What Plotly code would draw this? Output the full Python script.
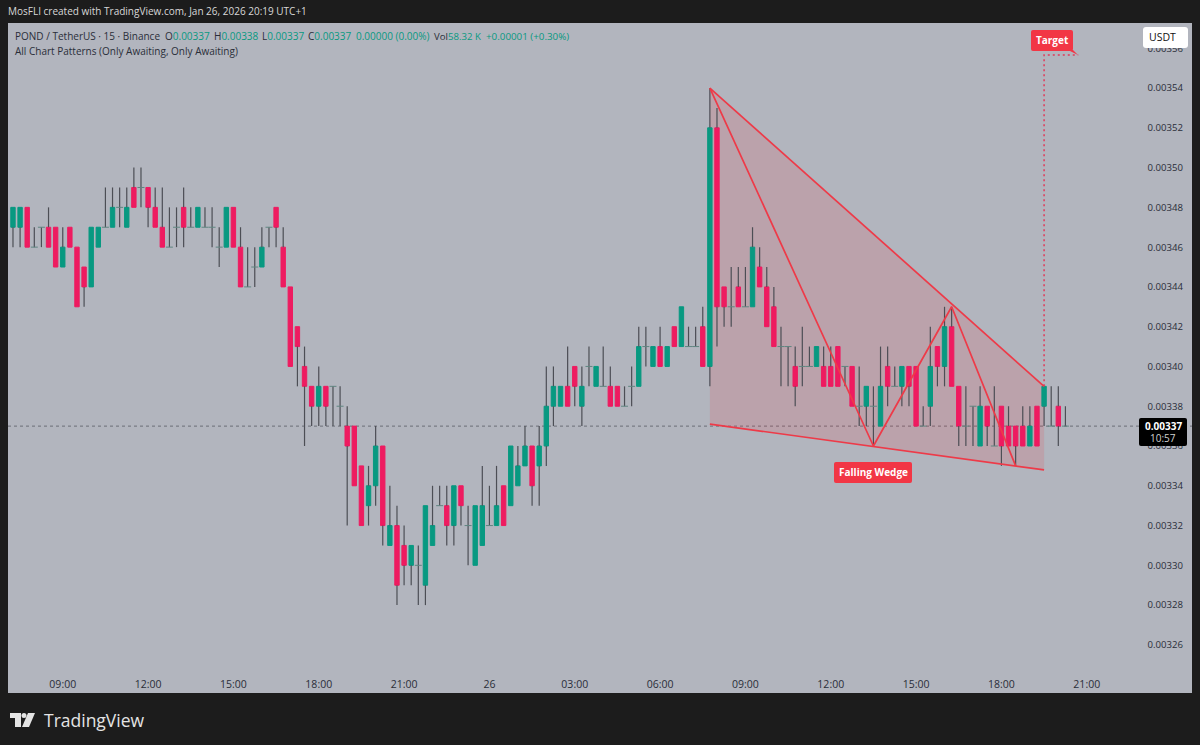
import pandas as pd
import plotly.graph_objects as go

OPEN = [347,347,348,346,347,347,347,345,347,346,345,344,346,347,347,348,347,349,349,349,
        348,347,346,347,348,347,347,347,347,346,346,348,346,344,345,345,347,348,346,344,
        342,340,339,338,339,339,338,337,337,335,333,334,336,331,332,331,330,330,329,331,
        333,333,332,334,332,330,331,332,332,334,333,334,335,336,335,336,338,338,339,340,
        338,340,339,339,339,339,338,339,339,341,340,341,340,342,341,341,341,342,340,352,
        344,343,344,343,343,345,344,343,341,341,340,340,340,340,340,340,341,340,340,338,
        338,338,337,340,339,339,340,340,337,338,341,340,342,339,337,338,336,338,336,338,
        337,337,337,336,338,338,337,338,337]
HIGH = [348,348,348,347,347,348,347,347,347,346,345,347,347,349,349,349,349,350,350,349,
        349,349,348,348,349,348,348,348,348,347,348,348,347,346,346,347,347,348,347,344,
        342,341,339,340,339,339,339,338,337,335,335,337,336,334,333,332,331,331,333,334,
        334,334,334,334,333,333,335,334,335,334,336,336,337,336,337,340,340,339,341,340,
        340,341,340,341,340,339,339,340,342,342,341,342,341,342,343,342,342,343,354,353,
        344,345,345,345,347,346,345,344,342,341,341,342,341,341,341,341,341,340,340,340,
        339,339,341,341,340,340,340,340,338,342,341,343,343,339,339,338,339,338,339,338,
        338,337,338,338,338,339,339,339,338]
LOW = [346,346,346,346,346,346,345,345,346,343,343,344,346,347,347,347,347,348,348,347,
       347,346,346,346,346,347,347,347,346,345,346,346,344,344,344,345,346,346,344,340,
       339,336,337,337,337,337,337,332,334,332,332,333,331,331,328,329,329,328,328,331,
       333,331,331,332,330,330,331,332,332,332,333,334,335,333,333,335,337,338,338,338,
       337,339,339,339,338,338,338,338,339,340,340,340,340,341,341,341,341,340,339,341,
       342,342,343,343,343,344,342,341,339,339,338,339,340,340,339,339,339,339,338,337,
       337,336,337,338,339,338,338,337,337,337,339,339,339,336,336,336,336,336,336,335,
       336,335,336,336,336,337,337,336,337]
CLOSE = [348,348,346,346,347,346,345,346,346,343,344,347,347,347,348,348,348,348,349,348,
         347,346,346,347,347,347,348,347,347,346,348,346,344,344,345,346,347,347,344,340,
         341,339,338,339,338,339,338,336,334,332,334,336,332,332,329,330,331,330,333,332,
         333,332,334,333,332,333,333,332,333,332,336,335,336,334,336,338,339,339,338,339,
         339,340,340,339,338,338,338,339,341,341,341,340,341,341,343,341,341,340,352,343,
         343,343,343,343,346,344,342,341,341,341,339,340,340,341,339,339,339,340,338,338,
         339,338,339,339,339,340,339,337,337,340,340,342,339,337,337,338,338,337,336,336,
         336,336,336,337,336,339,337,337,337]

WEDGE_FILL_IDX = [98, 145, 145, 98]
WEDGE_FILL_PRICE = [354, 339, 334.8, 337.1]
ZIGZAG_IDX = [98, 121, 132, 141]
ZIGZAG_PRICE = [354, 336, 343, 335]
UPPER_IDX = [98, 145]
UPPER_PRICE = [354, 339]
LOWER_IDX = [98, 145]
LOWER_PRICE = [337.1, 334.8]

TICK_PRICES = [326, 328, 330, 332, 334, 336, 338, 340, 342, 344, 346, 348, 350, 352, 354, 356]
TIME_TICKS = ["2026-01-25 09:00", "2026-01-25 12:00", "2026-01-25 15:00", "2026-01-25 18:00",
              "2026-01-25 21:00", "2026-01-26 00:00", "2026-01-26 03:00", "2026-01-26 06:00",
              "2026-01-26 09:00", "2026-01-26 12:00", "2026-01-26 15:00", "2026-01-26 18:00",
              "2026-01-26 21:00"]
TIME_LABELS = ["09:00", "12:00", "15:00", "18:00", "21:00", "26", "03:00", "06:00",
               "09:00", "12:00", "15:00", "18:00", "21:00"]

FRAME = "#1c1c1c"
PANE = "#b2b5be"
GREEN = "#089981"
RED = "#f23645"
PINK = "#ee1b60"
WICK = "#4c4e55"
INK = "#2a2e39"
FONT = "Open Sans"

times = pd.date_range("2026-01-25 07:15", periods=len(OPEN), freq="15min")


def idx_time(i):
    return times[0] + pd.Timedelta(minutes=15 * i)


def to_price(values):
    return [v / 100000 for v in values]


# pixel helpers for the pieces that sit on the frame, not on the price scale
def px(x):
    return (x - 8) / 1184


def py(y):
    return (693 - y) / 670


def round_rect(x0, y0, x1, y1, r):
    return (f"M{px(x0 + r)},{py(y0)} L{px(x1 - r)},{py(y0)} Q{px(x1)},{py(y0)} {px(x1)},{py(y0 + r)} "
            f"L{px(x1)},{py(y1 - r)} Q{px(x1)},{py(y1)} {px(x1 - r)},{py(y1)} "
            f"L{px(x0 + r)},{py(y1)} Q{px(x0)},{py(y1)} {px(x0)},{py(y1 - r)} "
            f"L{px(x0)},{py(y0 + r)} Q{px(x0)},{py(y0)} {px(x0 + r)},{py(y0)} Z")


def poly(points):
    return "M" + " L".join(f"{px(x)},{py(y)}" for x, y in points) + " Z"


def label(x, y, text, size=10, color=INK, anchor="left"):
    # annotations pad themselves by 2px, take that back on the left side
    x = x - 2 if anchor == "left" else x
    fig.add_annotation(xref="paper", yref="paper", x=px(x), y=py(y), text=text, showarrow=False,
                       xanchor=anchor, yanchor="middle", align=anchor,
                       font=dict(family=FONT, size=size, color=color))


# scatter is always drawn over candlesticks, so wicks stop at the body edges
wick_x, wick_y = [], []
for t, o, h, l, c in zip(times, OPEN, HIGH, LOW, CLOSE):
    wick_x += [t, t, None, t, t, None]
    wick_y += [h / 100000, max(o, c) / 100000, None, min(o, c) / 100000, l / 100000, None]

bodies = [i for i in range(len(OPEN)) if OPEN[i] != CLOSE[i]]
dojis = [i for i in range(len(OPEN)) if OPEN[i] == CLOSE[i]]

# wedge path goes in as a below-traces shape, a scatter fill would tint the candles
wedge_path = "M" + " L".join(
    f"{idx_time(i).strftime('%Y-%m-%d_%H:%M')},{p / 100000}"
    for i, p in zip(WEDGE_FILL_IDX, WEDGE_FILL_PRICE)
) + " Z"

fig = go.Figure()

fig.add_trace(go.Scatter(x=wick_x, y=wick_y, mode="lines", line=dict(color=WICK, width=1.2),
                         hoverinfo="skip"))

fig.add_trace(go.Candlestick(
    x=[times[i] for i in bodies],
    open=[OPEN[i] / 100000 for i in bodies],
    close=[CLOSE[i] / 100000 for i in bodies],
    high=[max(OPEN[i], CLOSE[i]) / 100000 for i in bodies],
    low=[min(OPEN[i], CLOSE[i]) / 100000 for i in bodies],
    increasing=dict(line=dict(color=GREEN, width=1), fillcolor=GREEN),
    decreasing=dict(line=dict(color=PINK, width=1), fillcolor=PINK),
))

# flat candles are only a faint dash
fig.add_trace(go.Scatter(
    x=[times[i] for i in dojis],
    y=[OPEN[i] / 100000 for i in dojis],
    mode="markers",
    marker=dict(symbol="line-ew", size=5, line=dict(color="#5f8580", width=1)),
    hoverinfo="skip",
))

for xs, ys in [(UPPER_IDX, UPPER_PRICE), (LOWER_IDX, LOWER_PRICE), (ZIGZAG_IDX, ZIGZAG_PRICE)]:
    fig.add_trace(go.Scatter(x=[idx_time(i) for i in xs], y=to_price(ys), mode="lines",
                             line=dict(color="#ee3a48", width=1.7), hoverinfo="skip"))

# target leg
fig.add_trace(go.Scatter(x=[idx_time(145), idx_time(145), idx_time(149.8)],
                         y=to_price([339, 355.66, 355.66]), mode="lines",
                         line=dict(color="#e03a58", width=1.5, dash="2px,3px"), hoverinfo="skip"))

fig.update_layout(
    width=1200,
    height=745,
    autosize=False,
    paper_bgcolor=FRAME,
    plot_bgcolor=PANE,
    showlegend=False,
    boxgap=0.12,
    margin=dict(l=8, r=8, t=23, b=52),
    font=dict(family=FONT, size=10, color=INK),
    shapes=[
        # wedge, last price line, price box, USDT button, label boxes, logo
        dict(type="path", xref="x", yref="y", path=wedge_path, layer="below",
             fillcolor="rgba(242,54,69,0.15)", line=dict(width=0)),
        dict(type="line", xref="paper", yref="y", x0=0, x1=1, y0=CLOSE[-1] / 100000, y1=CLOSE[-1] / 100000,
             line=dict(color="#6b6e76", width=1, dash="dot"), layer="below"),
        dict(type="path", xref="paper", yref="paper", path=round_rect(1139, 418, 1187, 446, 2),
             fillcolor="#000000", line=dict(width=0)),
        dict(type="path", xref="paper", yref="paper", path=round_rect(1143, 27, 1188, 48, 3),
             fillcolor="#ffffff", line=dict(width=0)),
        dict(type="path", xref="paper", yref="paper", path=round_rect(1031, 30, 1073, 51, 2),
             fillcolor=RED, line=dict(width=0)),
        dict(type="path", xref="paper", yref="paper", path=poly([(1068, 50), (1073, 50), (1078, 55)]),
             fillcolor=RED, line=dict(width=0)),
        dict(type="path", xref="paper", yref="paper", path=round_rect(834, 462, 912, 483, 2),
             fillcolor=RED, line=dict(width=0)),
        dict(type="path", xref="paper", yref="paper",
             path=poly([(10, 713), (21, 713), (21, 727), (15, 727), (15, 718), (10, 718)]),
             fillcolor="#e4e4e4", line=dict(width=0)),
        dict(type="circle", xref="paper", yref="paper", x0=px(21.5), y0=py(718), x1=px(26.5), y1=py(713),
             fillcolor="#e4e4e4", line=dict(width=0)),
        dict(type="path", xref="paper", yref="paper",
             path=poly([(28, 713), (35, 713), (29, 727), (22, 727)]),
             fillcolor="#e4e4e4", line=dict(width=0)),
    ],
)

fig.update_xaxes(
    type="date",
    range=[idx_time(-0.7), idx_time(165.8)],
    rangeslider=dict(visible=False),
    tickvals=TIME_TICKS,
    ticktext=TIME_LABELS,
    ticklabelposition="inside",
    ticks="",
    showgrid=False,
    zeroline=False,
    showline=False,
    tickfont=dict(family=FONT, size=10.5, color=INK),
)
fig.update_yaxes(
    side="right",
    range=[323.58 / 100000, 357.27 / 100000],
    tickvals=to_price(TICK_PRICES),
    tickformat=".5f",
    ticklabelposition="inside",
    ticklabelstandoff=6,
    ticks="",
    showgrid=False,
    zeroline=False,
    showline=False,
    tickfont=dict(family=FONT, size=9.6, color=INK),
)

label(8, 11, "MosFLI created with TradingView.com, Jan 26, 2026 20:19 UTC+1", size=10, color="#d8d8d8")
g = f'<span style="color:{GREEN}">'
label(15, 36, "POND / TetherUS · 15 · Binance", size=10)
label(165, 36, f"O{g}0.00337</span>", size=10)
label(214, 36, f"H{g}0.00338</span>", size=10)
label(262, 36, f"L{g}0.00337</span>", size=10)
label(308, 36, f"C{g}0.00337</span>", size=10)
label(356, 36, f"{g}0.00000 (0.00%)</span>", size=10)
label(434, 36, f"Vol{g}58.32 K</span>", size=9.6)
label(486, 36, f"{g}+0.00001 (+0.30%)</span>", size=9.8)
label(15, 51, "All Chart Patterns (Only Awaiting, Only Awaiting)", size=10)
label(1052, 40, "<b>Target</b>", size=10, color="#ffffff", anchor="center")
label(873, 472, "<b>Falling Wedge</b>", size=10, color="#ffffff", anchor="center")
label(1162, 37, "USDT", size=10.5, color="#111111", anchor="center")
label(1163, 426, "<b>0.00337</b>", size=10, color="#ffffff", anchor="center")
label(1163, 438, "10:57", size=10, color="#d0d0d0", anchor="center")
label(44, 720, "TradingView", size=17.5, color="#e4e4e4")

# the page keeps a default 8px body margin otherwise
fig.write_html("out.html", config=dict(displayModeBar=False),
               post_script="document.body.style.margin = '0';")
